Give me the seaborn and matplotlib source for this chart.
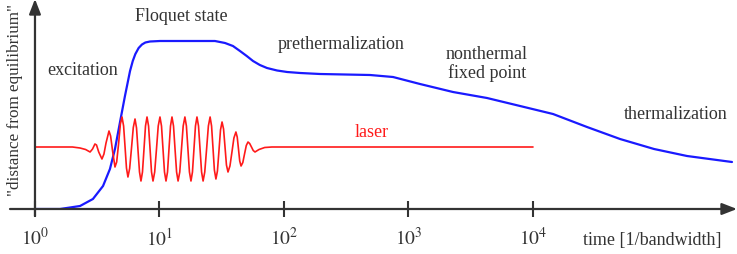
import seaborn as sns
import pandas as pd
import matplotlib.pyplot as plt

# blue curve: "distance from equilibrium" (arbitrary units) vs time
blue_time = [1.0, 1.59, 2.30, 2.92, 3.52, 4.00, 4.39, 4.82, 5.28, 5.80, 6.10, 6.40, 6.80,
             7.23, 7.70, 8.39, 10.1, 21.1, 27.9, 33.6, 38.9, 44.3, 50.2, 56.4, 64.0,
             73.0, 88, 106, 135, 195, 491, 751, 1237, 2277, 4272, 7870, 14480, 27150,
             50000, 93800, 172600, 396500]
blue_dist = [0, 0, 3, 10, 23, 40, 60, 87, 113, 138, 148, 155, 161,
             164.5, 166.5, 167.5, 168, 168, 168, 166, 163, 158, 153, 148, 144,
             141, 138.5, 137, 136, 135, 134, 132, 125, 117, 111, 103, 95, 82,
             70, 60, 53, 47]

# red curve: laser field
laser_time = [1.0, 2.0, 2.3, 2.55, 2.77, 2.90, 3.03, 3.12, 3.25, 3.45, 3.58, 3.72, 3.93,
              4.05, 4.20, 4.39, 4.53, 4.70, 4.85,
              5.00, 5.15, 5.29, 5.43, 5.58, 5.76, 5.96, 6.16,
              6.36, 6.54, 6.72, 6.91, 7.10, 7.30, 7.51, 7.72,
              7.94, 8.17, 8.40, 8.63, 8.87, 9.15, 9.46, 9.77,
              10.09, 10.38, 10.67, 10.97, 11.28, 11.6, 11.92, 12.26,
              12.6, 12.96, 13.33, 13.72, 14.1, 14.55, 15.02, 15.5,
              16.0, 16.45, 16.92, 17.4, 17.9, 18.4, 18.92, 19.45,
              20.0, 20.58, 21.17, 21.78, 22.4, 23.1, 23.9, 24.7,
              25.5, 26.2, 26.9, 27.6, 28.4, 29.2, 30.05, 30.9,
              31.8, 32.7, 33.6, 34.5, 35.5, 36.8, 38.2, 39.6,
              41.1, 42.1, 43.1, 44.1, 45.2, 46.7, 48.2, 49.8,
              51.4, 53.0, 54.8, 56.6, 58.5, 63, 70, 80, 10000]
laser_val = [62, 62, 61, 59.5, 57, 60, 65, 64, 57, 50, 55, 66, 78,
             73, 58, 42, 47, 66, 85,
             92, 83, 62, 41, 32, 40.5, 61, 81.5,
             90, 81, 59, 37, 28, 37, 60, 83,
             92, 83, 60, 37, 28, 37, 60, 83,
             92, 83, 60, 37, 28, 37, 60, 83,
             92, 83, 60, 37, 28, 37, 60, 83,
             92, 83, 60, 37, 28, 37, 60, 83,
             92, 83, 60, 37, 28, 37, 60, 83,
             92, 83, 61, 39, 30, 38, 58.5, 79,
             87, 80, 62, 44, 37, 43, 57, 71,
             77, 72, 60, 48, 43, 46.5, 55, 63.5,
             67, 65.5, 62, 58.5, 57, 59.5, 61.5, 62, 62]

tick_pos = [1, 10, 100, 1000, 10000]
tick_labels = ["$10^{0}$", "$10^{1}$", "$10^{2}$", "$10^{3}$", "$10^{4}$"]

phase_labels = ["excitation", "Floquet state", "prethermalization",
                "nonthermal\nfixed point", "thermalization"]
phase_time = [2.43, 14.9, 287, 4270, 141000]
phase_dist = [139, 193, 165, 146, 95]

sns.set_style("white")
plt.rcParams["font.family"] = ["Liberation Serif", "DejaVu Serif"]
plt.rcParams["mathtext.fontset"] = "stix"
txt = "#333333"

fig = plt.figure(figsize=(7.37, 2.55), dpi=100)
ax = fig.add_axes([10 / 737, 45 / 255, 727 / 737, 210 / 255])

blue = pd.DataFrame({"time": blue_time, "dist": blue_dist})
laser = pd.DataFrame({"time": laser_time, "val": laser_val})
sns.lineplot(data=blue, x="time", y="dist", color="#1a1aff", lw=1.6,
             sort=False, estimator=None, ax=ax)
sns.lineplot(data=laser, x="time", y="val", color="#ff1a1a", lw=1.2,
             sort=False, estimator=None, ax=ax)

ax.set_xscale("log")
ax.set_xlim(0.63, 4.35e5)
ax.set_ylim(0, 210)
for s in ax.spines.values():
    s.set_visible(False)

# axes drawn as arrows
ax.annotate("", xy=(4.35e5, 0), xytext=(0.63, 0),
            arrowprops=dict(arrowstyle="-|>,head_length=0.9,head_width=0.35",
                            color=txt, lw=1.6, shrinkA=0, shrinkB=0),
            annotation_clip=False)
ax.annotate("", xy=(1, 210), xytext=(1, -7),
            arrowprops=dict(arrowstyle="-|>,head_length=0.9,head_width=0.35",
                            color=txt, lw=1.6, shrinkA=0, shrinkB=0),
            annotation_clip=False)

ax.set_xticks(tick_pos)
ax.set_xticklabels(tick_labels)
ax.minorticks_off()
ax.tick_params(axis="x", direction="inout", length=11, width=1.5, color=txt,
               labelcolor=txt, labelsize=14, pad=7, bottom=True)
ax.set_yticks([])
ax.set_xlabel("")
ax.set_ylabel("")

for lab, t, d in zip(phase_labels, phase_time, phase_dist):
    ax.text(t, d, lab, ha="center", va="center", fontsize=13, color=txt,
            linespacing=1.05)
ax.text(509, 77, "laser", ha="center", va="center", fontsize=13, color="#ff1a1a")
ax.text(9.04e4, -31, "time [1/bandwidth]", ha="center", va="center",
        fontsize=13, color=txt, clip_on=False)
fig.text(15 / 737, 1 - 100 / 255, '"distance from equilibrium"', rotation=90,
         ha="center", va="center", fontsize=12.3, color=txt)

fig.savefig("out.png", dpi=100)
